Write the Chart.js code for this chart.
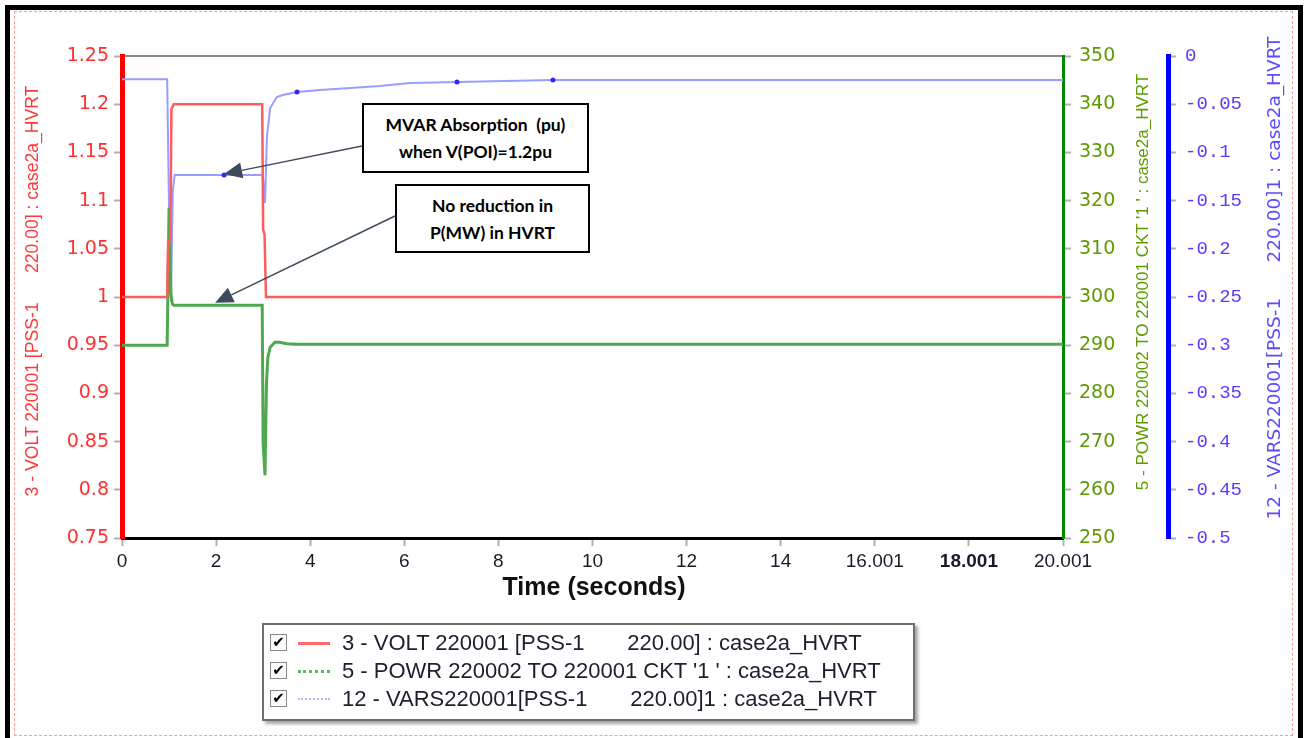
<!DOCTYPE html>
<html><head><meta charset="utf-8">
<script src="https://cdn.jsdelivr.net/npm/chart.js@4.4.1/dist/chart.umd.min.js"></script>
<style>
html,body{margin:0;padding:0;background:#fff;width:1306px;height:738px;overflow:hidden;}
#wrap{position:absolute;left:0;top:0;width:1306px;height:738px;}
canvas{position:absolute;left:0;top:0;}
.frame{position:absolute;left:5px;top:5px;width:1298px;height:760px;border:5px solid #000;border-bottom:none;box-sizing:border-box;}
.dots{position:absolute;left:14px;top:11px;width:1279px;height:725px;border:1px dashed #ff9a9a;box-sizing:border-box;}
.vt{position:absolute;white-space:pre;transform:translate(-50%,-50%) rotate(-90deg);line-height:1;}
.xt{position:absolute;white-space:pre;transform:translate(-50%,-50%);font:bold 25px "Liberation Sans",Arial,sans-serif;color:#111;}
.note{position:absolute;border:2px solid #000;box-sizing:border-box;background:#fff;font:bold 17.5px Lato,"Open Sans",sans-serif;color:#000;text-align:center;display:flex;flex-direction:column;justify-content:center;line-height:27px;}
#legend{position:absolute;left:262px;top:623px;width:653px;height:98px;border:2px solid #6e6e6e;box-sizing:border-box;background:#fff;box-shadow:3px 3px 3px rgba(0,0,0,0.35);}
.row{position:absolute;left:0;height:28px;width:100%;}
.cb{position:absolute;left:6px;top:5px;width:17px;height:17px;border:1.5px solid #8a8a8a;box-sizing:border-box;font:bold 15px "DejaVu Sans",sans-serif;line-height:14px;text-align:center;color:#000;background:#fafafa;}
.sw{position:absolute;left:34px;top:13px;width:32px;height:0;}
.lt{position:absolute;left:78px;top:3px;white-space:pre;font:22px "Liberation Sans",Arial,sans-serif;color:#1e1e2e;line-height:22px;}
</style>
</head><body>
<div id="wrap"><canvas id="c" width="1306" height="738"></canvas></div>
<div class="frame"></div>
<div class="dots"></div>
<script>
// ---- data ----
const voltT = [0, 0.96, 0.98, 1.03, 1.05, 1.1, 2.98, 3.0, 3.03, 3.06, 20.001];
const voltV = [1.0, 1.0, 1.056, 1.06, 1.195, 1.2, 1.2, 1.07, 1.065, 1.0, 1.0];

const powrT = [0, 0.96, 1.0, 1.04, 1.07, 1.1, 2.98, 3.0, 3.04, 3.07, 3.1, 3.15, 3.25, 3.35, 3.5, 3.7, 20.001];
const powrV = [290, 290, 318.5, 300.5, 298.6, 298.3, 298.3, 269.7, 263, 282, 287.5, 289.6, 290.6, 290.6, 290.3, 290.2, 290.2];

const varsT = [0, 0.96, 1.0, 1.04, 1.08, 1.12, 2.17, 2.98, 3.0, 3.04, 3.08, 3.15, 3.29, 3.42, 3.72, 4.21, 4.85, 5.48, 6.12, 7.12, 9.16, 20.001];
const varsV = [-0.024, -0.024, -0.16, -0.255, -0.14, -0.1234, -0.1234, -0.1234, -0.128, -0.1525, -0.084, -0.054, -0.0425, -0.0405, -0.0373, -0.0353, -0.0332, -0.0311, -0.028, -0.027, -0.0249, -0.0249];
const varsMarkT = [2.17, 3.72, 7.12, 9.16];

const seriesLabels = [
  "3 - VOLT 220001 [PSS-1       220.00] : case2a_HVRT",
  "5 - POWR 220002 TO 220001 CKT '1 ' : case2a_HVRT",
  "12 - VARS220001[PSS-1       220.00]1 : case2a_HVRT"
];
const axisTitles = [
  "3 - VOLT 220001 [PSS-1      220.00] : case2a_HVRT",
  "5 - POWR 220002 TO 220001 CKT '1 ' : case2a_HVRT",
  "12 - VARS220001[PSS-1      220.00]1 : case2a_HVRT"
];
const xTitle = "Time (seconds)";

const xTickValues = [0, 2, 4, 6, 8, 10, 12, 14, 16.001, 18.001, 20.001];
const xTickLabels = ['0','2','4','6','8','10','12','14','16.001','18.001','20.001'];
const xBoldLabel = '18.001';
const voltTickValues = [0.75, 0.8, 0.85, 0.9, 0.95, 1.0, 1.05, 1.1, 1.15, 1.2, 1.25];
const voltTickLabels = ['0.75','0.8','0.85','0.9','0.95','1','1.05','1.1','1.15','1.2','1.25'];
const powrTickValues = [250, 260, 270, 280, 290, 300, 310, 320, 330, 340, 350];
const powrTickLabels = ['250','260','270','280','290','300','310','320','330','340','350'];
const varsTickValues = [-0.5, -0.45, -0.4, -0.35, -0.3, -0.25, -0.2, -0.15, -0.1, -0.05, 0];
const varsTickLabels = ['-0.5','-0.45','-0.4','-0.35','-0.3','-0.25','-0.2','-0.15','-0.1','-0.05','0'];

const notes = ["MVAR Absorption  (pu)\nwhen V(POI)=1.2pu", "No reduction in\nP(MW) in HVRT"];
const arrowTipT = [2.17, 1.98];
const arrowTipV = [-0.1234, 298.6];

// ---- colours ----
const C_RED = '#ff5c5c', C_GREEN = '#4fa84f', C_BLUE = '#9c9cff';

const pts = (t, v) => t.map((x, i) => ({x: x, y: v[i]}));

function fixTicks(values) {
  return (axis) => { axis.ticks = values.map(v => ({value: v})); };
}

const arrowPlugin = {
  id: 'arrows',
  afterDatasetsDraw(chart) {
    const {ctx, scales} = chart;
    const list = [
      {from: [362, 146], to: [scales.x.getPixelForValue(arrowTipT[0]), scales.y2.getPixelForValue(arrowTipV[0]) - 1]},
      {from: [395, 216], to: [scales.x.getPixelForValue(arrowTipT[1]), scales.y1.getPixelForValue(arrowTipV[1]) - 1]}
    ];
    ctx.save();
    ctx.strokeStyle = '#3e4b5e';
    ctx.fillStyle = '#3e4b5e';
    ctx.lineWidth = 1.5;
    for (const a of list) {
      const [x1, y1] = a.from, [x2, y2] = a.to;
      const ang = Math.atan2(y2 - y1, x2 - x1);
      const L = 18, W = 8;
      const bx = x2 - L * Math.cos(ang), by = y2 - L * Math.sin(ang);
      ctx.beginPath(); ctx.moveTo(x1, y1); ctx.lineTo(bx, by); ctx.stroke();
      ctx.beginPath();
      ctx.moveTo(x2, y2);
      ctx.lineTo(bx + W * Math.sin(ang), by - W * Math.cos(ang));
      ctx.lineTo(bx - W * Math.sin(ang), by + W * Math.cos(ang));
      ctx.closePath(); ctx.fill();
    }
    ctx.restore();
  }
};

const tickGrid = {display: true, drawOnChartArea: false, drawTicks: true, tickLength: 8, tickColor: '#b0b0b0', tickWidth: 2, color: '#b0b0b0'};

new Chart(document.getElementById('c'), {
  type: 'line',
  data: {
    datasets: [
      {label: seriesLabels[0], data: pts(voltT, voltV), yAxisID: 'y', borderColor: C_RED, borderWidth: 2.5, pointRadius: 0, tension: 0},
      {label: seriesLabels[1], data: pts(powrT, powrV), yAxisID: 'y1', borderColor: C_GREEN, borderWidth: 3, pointRadius: 0, tension: 0},
      {label: seriesLabels[2], data: pts(varsT, varsV), yAxisID: 'y2', borderColor: C_BLUE, borderWidth: 2, tension: 0,
        pointRadius: c => varsMarkT.includes(c.raw.x) ? 2.5 : 0, pointStyle: 'circle',
        pointBackgroundColor: '#2a2aff', pointBorderColor: '#2a2aff', pointBorderWidth: 0}
    ]
  },
  options: {
    responsive: false,
    animation: false,
    devicePixelRatio: 1,
    layout: {padding: 0},
    plugins: {legend: {display: false}, tooltip: {enabled: false}, title: {display: false}},
    scales: {
      xTop: {
        type: 'linear', position: 'top', min: 0, max: 20.001,
        ticks: {display: false}, grid: {display: false},
        border: {display: true, color: '#8a8a8a', width: 2},
        afterFit: s => { s.height = 56; }
      },
      x: {
        type: 'linear', position: 'bottom', min: 0, max: 20.001,
        afterBuildTicks: fixTicks(xTickValues),
        ticks: {
          autoSkip: false, maxRotation: 0, padding: 4, color: '#1a1a2a',
          callback: (v, i) => xTickLabels[i],
          font: c => ({family: '"Liberation Sans", Arial, sans-serif', size: 19,
                       weight: xTickLabels[c.index] === xBoldLabel ? 'bold' : 'normal'})
        },
        grid: tickGrid,
        border: {display: true, color: '#000', width: 3},
        afterFit: s => { s.height = 200; }
      },
      y: {
        type: 'linear', position: 'left', min: 0.75, max: 1.25,
        afterBuildTicks: fixTicks(voltTickValues),
        ticks: {autoSkip: false, padding: 5, color: '#ff3030',
          callback: (v, i) => voltTickLabels[i],
          font: {family: '"DejaVu Sans", sans-serif', size: 19}},
        grid: tickGrid,
        border: {display: true, color: '#ff0000', width: 5},
        afterFit: s => { s.width = 122; }
      },
      y1: {
        type: 'linear', position: 'right', min: 250, max: 350,
        afterBuildTicks: fixTicks(powrTickValues),
        ticks: {autoSkip: false, padding: 8, color: '#5f9a00',
          callback: (v, i) => powrTickLabels[i],
          font: {family: '"DejaVu Sans", sans-serif', size: 19}},
        grid: tickGrid,
        border: {display: true, color: '#008a00', width: 3},
        afterFit: s => { s.width = 105; }
      },
      y2: {
        type: 'linear', position: 'right', min: -0.5, max: 0,
        afterBuildTicks: fixTicks(varsTickValues),
        ticks: {autoSkip: false, padding: 9, color: '#5a3cff',
          callback: (v, i) => varsTickLabels[i],
          font: {family: '"Liberation Mono", monospace', size: 19}},
        grid: tickGrid,
        border: {display: true, color: '#0000ff', width: 5},
        afterFit: s => { s.width = 138; }
      }
    }
  },
  plugins: [arrowPlugin]
});

// ---- overlay texts (titles, notes, legend) ----
function addDiv(cls, text, style) {
  const d = document.createElement('div');
  d.className = cls; d.textContent = text;
  Object.assign(d.style, style);
  document.body.appendChild(d);
  return d;
}
addDiv('vt', axisTitles[0], {left: '32px', top: '291px', color: '#ff3838', font: '17.6px "Liberation Sans", Arial, sans-serif'});
addDiv('vt', axisTitles[1], {left: '1143px', top: '282px', color: '#5f9a00', font: '17px "Liberation Sans", Arial, sans-serif'});
addDiv('vt', axisTitles[2], {left: '1273px', top: '278px', color: '#5b4bff', font: '18.5px "DejaVu Sans", sans-serif'});
addDiv('xt', xTitle, {left: '594px', top: '586px'});

const n1 = addDiv('note', '', {left: '362px', top: '103px', width: '227px', height: '70px'});
notes[0].split('\n').forEach(s => { const p = document.createElement('div'); p.textContent = s; p.style.whiteSpace = 'pre'; n1.appendChild(p); });
const n2 = addDiv('note', '', {left: '395px', top: '184px', width: '195px', height: '69px'});
notes[1].split('\n').forEach(s => { const p = document.createElement('div'); p.textContent = s; n2.appendChild(p); });

const legend = document.createElement('div');
legend.id = 'legend';
const swStyles = [
  {borderTop: '3px solid #ff6a6a'},
  {borderTop: '3px dotted #5cb85c'},
  {borderTop: '2px dotted #b4b4ff'}
];
seriesLabels.forEach((lab, i) => {
  const row = document.createElement('div'); row.className = 'row'; row.style.top = (4 + 28 * i) + 'px';
  const cb = document.createElement('div'); cb.className = 'cb'; cb.textContent = '\u2714';
  const sw = document.createElement('div'); sw.className = 'sw'; Object.assign(sw.style, swStyles[i]);
  const lt = document.createElement('div'); lt.className = 'lt'; lt.textContent = lab;
  row.appendChild(cb); row.appendChild(sw); row.appendChild(lt);
  legend.appendChild(row);
});
document.body.appendChild(legend);
</script>
</body></html>
